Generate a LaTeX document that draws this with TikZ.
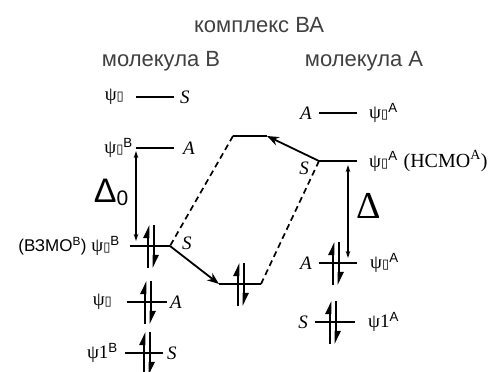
\documentclass[tikz,border=0pt]{standalone}
\usepackage{fontspec}
\setmainfont{Liberation Serif}
\newfontfamily\sansfont{Liberation Sans}
\newfontfamily\boxfont{DejaVu Sans}
\usetikzlibrary{arrows.meta,positioning,calc}
\newcommand{\bx}{{\boxfont\fontsize{13}{13}\selectfont\char"25AF}}
\tikzset{
  lvl/.style={line width=2.8pt},
  mo/.style={inner sep=0pt, outer sep=0pt, minimum width=#1, minimum height=0pt,
    append after command={(\tikzlastnode.west) edge[lvl] (\tikzlastnode.east)}},
  mo/.default=38pt,
  lab/.style={inner sep=1pt, font=\fontsize{19}{21}\selectfont},
  sym/.style={inner sep=1pt, font=\fontsize{19}{21}\selectfont\itshape},
  hdr/.style={inner sep=1pt, font=\sansfont\fontsize{22}{24}\selectfont, text=black!75},
  move/.style={-{Stealth[length=12pt, width=9pt]}, line width=1.8pt},
  link/.style={dash pattern=on 6pt off 4pt, line width=1.7pt},
  gap/.style={{Stealth[length=7pt, width=4.5pt]}-{Stealth[length=7pt, width=4.5pt]}, line width=1.1pt},
  pair/.pic={
    \draw[line width=2pt, -{Triangle[left, length=11pt, width=10pt]}] (-2.7,22) -- (-2.7,-21);
    \draw[line width=2pt, -{Triangle[left, length=11pt, width=10pt]}] (2.7,-21) -- (2.7,22);
  },
}
\begin{document}
\begin{tikzpicture}[x=1pt, y=-1pt]
  \useasboundingbox (0,0) rectangle (501,372);
  % --- headings ---
  \node[hdr] (ttl) at (259,25) {комплекс ВА};
  \node[hdr] (molb) at (161,61) {молекула В};
  \node[hdr] (mola) at (364,61) {молекула А};
  % --- molecule B ---
  \node[mo] (b4) at (155,97) {};
  \node[mo] (b3) at (155,148) {};
  \node[mo=40pt] (b2) at (150,246) {};
  \node[mo=40pt] (b1) at (147,302) {};
  \node[mo] (b0) at (144,353) {};
  \node[lab, left=11pt of b4.west] (b4n) {ψ\bx};
  \node[sym, right=5pt of b4.east] (b4s) {S};
  \node[lab, left=2pt of b3.west] (b3n) {ψ\bx\textsuperscript{\sansfont В}};
  \node[sym, right=8pt of b3.east] (b3s) {A};
  \node[lab, left=9pt of b2.west] (b2n) {{\sansfont\fontsize{17}{19}\selectfont(ВЗМО\textsuperscript{В})} ψ\bx\textsuperscript{\sansfont В}};
  \node[sym, right=11pt of b2.east, yshift=3pt] (b2s) {S};
  \node[lab, left=14pt of b1.west] (b1n) {ψ\bx};
  \node[sym, right=2pt of b1.east] (b1s) {A};
  \node[lab, left=6pt of b0.west] (b0n) {ψ1\textsuperscript{\sansfont В}};
  \node[sym, right=3pt of b0.east] (b0s) {S};
  \pic at ($(b2)+(1,0)$) {pair};
  \pic at ($(b1)+(1,0)$) {pair};
  \pic at ($(b0)+(3,0)$) {pair};
  \draw[gap] ($(b3.west)+(0,3)$) -- ($(b3.west |- b2.west)+(0,-5)$);
  \node[inner sep=1pt, font=\sansfont\fontsize{34}{36}\selectfont] (d0) at (111,192)
    {Δ\raisebox{-3pt}{\fontsize{21}{21}\selectfont 0}};
  % --- molecule A ---
  \node[mo] (a3) at (338,113) {};
  \node[mo] (a2) at (338,161) {};
  \node[mo] (a1) at (338,263) {};
  \node[mo=40pt] (a0) at (335,322) {};
  \node[sym, left=6pt of a3.west] (a3s) {A};
  \node[lab, right=11pt of a3.east] (a3n) {ψ\bx\textsuperscript{\sansfont А}};
  \node[sym, below left=0pt and 9pt of a2.west] (a2s) {S};
  \node[lab, right=11pt of a2.east] (a2n) {ψ\bx\textsuperscript{\sansfont А}\hspace{6pt}{\fontsize{20}{22}\selectfont(НСМО\textsuperscript{А})}};
  \node[sym, left=6pt of a1.west] (a1s) {A};
  \node[lab, right=12pt of a1.east] (a1n) {ψ\bx\textsuperscript{\sansfont А}};
  \node[sym, left=6pt of a0.west] (a0s) {S};
  \node[lab, right=12pt of a0.east] (a0n) {ψ1\textsuperscript{\sansfont А}};
  \pic at ($(a1)+(-2,0)$) {pair};
  \pic at ($(a0)+(-2,0)$) {pair};
  \draw[gap] ($(a2)+(10,4)$) -- ($(a1)+(10,-5)$);
  \node[inner sep=1pt, font=\fontsize{38}{40}\selectfont] (d1) at (369,206) {Δ};
  % --- complex BA ---
  \node[mo=34pt] (cu) at (250,136) {};
  \node[mo=42pt] (cl) at (240,284) {};
  \pic at ($(cl)+(1,0)$) {pair};
  \draw[move] (a2.west) -- (cu.east);
  \draw[move] (b2.east) -- (cl.west);
  \draw[link] (cu.west) -- (b2.east);
  \draw[link] (cl.east) -- (a2.west);
\end{tikzpicture}
\end{document}
